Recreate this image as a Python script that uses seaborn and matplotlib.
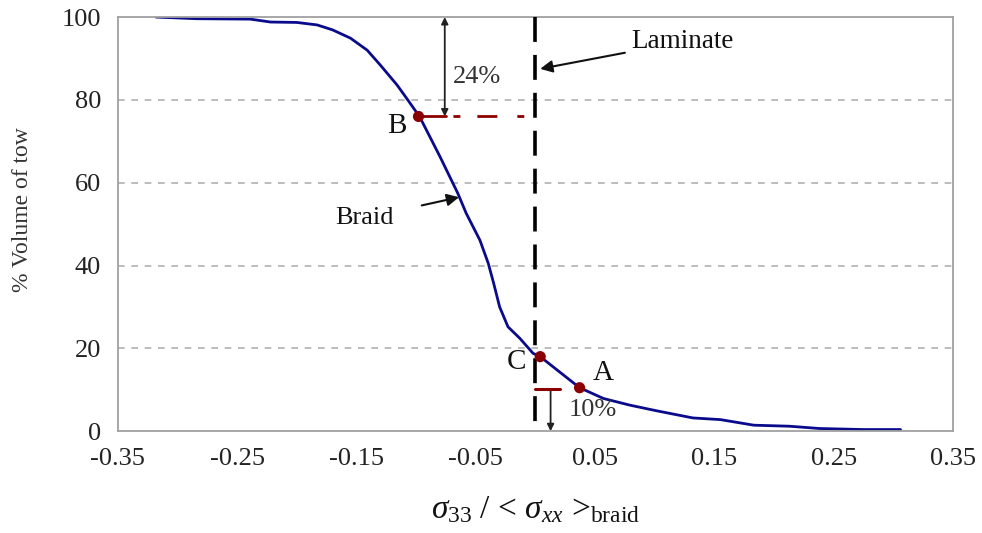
import numpy as np
import pandas as pd
import seaborn as sns
import matplotlib
matplotlib.use("Agg")
import matplotlib.pyplot as plt

# Braid curve
stress_ratio = [-0.318, -0.284, -0.239, -0.222, -0.200, -0.183, -0.170, -0.155, -0.141,
                -0.130, -0.116, -0.108, -0.097, -0.080, -0.065, -0.058, -0.0465, -0.0395,
                -0.035, -0.030, -0.023, -0.013, -0.002, 0.004, 0.037, 0.057, 0.079, 0.102,
                0.132, 0.155, 0.183, 0.213, 0.238, 0.275, 0.306]
volume_pct = [100.0, 99.6, 99.5, 98.8, 98.7, 98.1, 96.9, 94.9, 92.0,
              88.4, 83.6, 80.4, 75.9, 66.3, 57.4, 52.6, 46.1, 40.5,
              35.7, 30.0, 25.2, 22.4, 18.8, 18.0, 10.5, 7.9, 6.3, 4.9,
              3.2, 2.8, 1.45, 1.2, 0.65, 0.4, 0.4]

# Marked points
point_labels = ["B", "C", "A"]
point_x = [-0.098, 0.004, 0.037]
point_y = [76.0, 18.0, 10.5]

laminate_x = 0.0
x_ticks = [-0.35, -0.25, -0.15, -0.05, 0.05, 0.15, 0.25, 0.35]
x_tick_labels = ["-0.35", "-0.25", "-0.15", "-0.05", "0.05", "0.15", "0.25", "0.35"]
y_ticks = [0, 20, 40, 60, 80, 100]

sns.set_style("white")
plt.rcParams['font.family'] = ['Liberation Serif', 'DejaVu Serif']
plt.rcParams['mathtext.fontset'] = 'custom'
plt.rcParams['mathtext.rm'] = 'Liberation Serif'
plt.rcParams['mathtext.it'] = 'Liberation Serif:italic'

fig = plt.figure(figsize=(9.82, 5.33), dpi=100)
ax = fig.add_axes([0.120, 0.191, 0.8505, 0.777])

df = pd.DataFrame({"x": stress_ratio, "y": volume_pct})
sns.lineplot(data=df, x="x", y="y", ax=ax, color="#0a0a8c", linewidth=2.0, sort=False)

ax.set_xlim(-0.35, 0.35)
ax.set_ylim(0, 100)
ax.set_xticks(x_ticks)
ax.set_xticklabels(x_tick_labels)
ax.set_yticks(y_ticks)
for yv in y_ticks[1:-1]:
    ax.axhline(yv, color="#b0b0b0", linestyle=(0, (4, 4)), linewidth=1.2, zorder=0)

for s in ax.spines.values():
    s.set_color("#a0a0a0")
    s.set_linewidth(1.3)
ax.tick_params(axis="y", direction="inout", length=12, width=1.2, color="#a0a0a0",
               labelsize=19, labelcolor="#222222", pad=6)
ax.tick_params(axis="x", direction="out", length=8, width=1.2, color="#a0a0a0",
               labelsize=19, labelcolor="#222222", pad=4)

# Laminate line (drawn from top to bottom so the dash pattern starts at the top)
ax.plot([laminate_x, laminate_x], [100, 0], color="black", linewidth=2.6,
        linestyle=(0, (6.9, 3.6)), zorder=3)

# B horizontal red dash-dot line
ax.plot([point_x[0], -0.075], [point_y[0], point_y[0]], color="#8b0000", linewidth=2.0, zorder=4)
ax.plot([-0.075, laminate_x], [point_y[0], point_y[0]], color="#8b0000", linewidth=2.0,
        linestyle=(20.5, (2.5, 6.1, 7.2, 7.2)), zorder=4)
# A red short line
ax.plot([laminate_x, 0.021], [10.1, 10.1], color="#8b0000", linewidth=2.2, zorder=4)

# markers
sns.scatterplot(x=point_x, y=point_y, ax=ax, color="#8b0000", s=65, zorder=5, edgecolor="none")

# 24% double arrow
ax.annotate("", xy=(-0.076, 100), xytext=(-0.076, 76),
            arrowprops=dict(arrowstyle="<|-|>", color="#222222", lw=1.3,
                            mutation_scale=10, shrinkA=0, shrinkB=0))
ax.text(-0.069, 85.5, "24%", fontsize=19, color="#333333", va="center", ha="left")

# 10% arrow
ax.annotate("", xy=(0.0127, 0), xytext=(0.0127, 10.1),
            arrowprops=dict(arrowstyle="-|>", color="#222222", lw=1.3,
                            mutation_scale=10, shrinkA=0, shrinkB=0))
ax.text(0.028, 5.0, "10%", fontsize=19, color="#333333", va="center", ha="left")

# Laminate label
ax.annotate("Laminate", xy=(0.004, 87.5), xytext=(0.080, 94.0), fontsize=19.5, color="#111111",
            va="center", ha="left",
            arrowprops=dict(arrowstyle="-|>", color="#111111", lw=1.5, mutation_scale=18,
                            shrinkA=2, shrinkB=0))
# Braid label
ax.annotate("Braid", xy=(-0.064, 56.5), xytext=(-0.143, 51.5), fontsize=19, color="#111111",
            va="center", ha="center",
            arrowprops=dict(arrowstyle="-|>", color="#111111", lw=1.5, mutation_scale=18,
                            shrinkA=18, shrinkB=0))

ax.text(-0.116, 73.8, "B", fontsize=21, color="#111111", va="center", ha="center")
ax.text(-0.016, 16.8, "C", fontsize=21, color="#111111", va="center", ha="center")
ax.text(0.057, 14.0, "A", fontsize=21, color="#111111", va="center", ha="center")

ax.set_ylabel("% Volume of tow", fontsize=17, color="#333333", labelpad=21)
ax.yaxis.label.set_y(0.534)
ax.set_xlabel(r"$\sigma_{33}$ / < $\sigma_{xx}$ >$_{\mathrm{braid}}$", fontsize=24,
              color="#111111", labelpad=18)

fig.savefig("out.png", dpi=100, facecolor="white")
